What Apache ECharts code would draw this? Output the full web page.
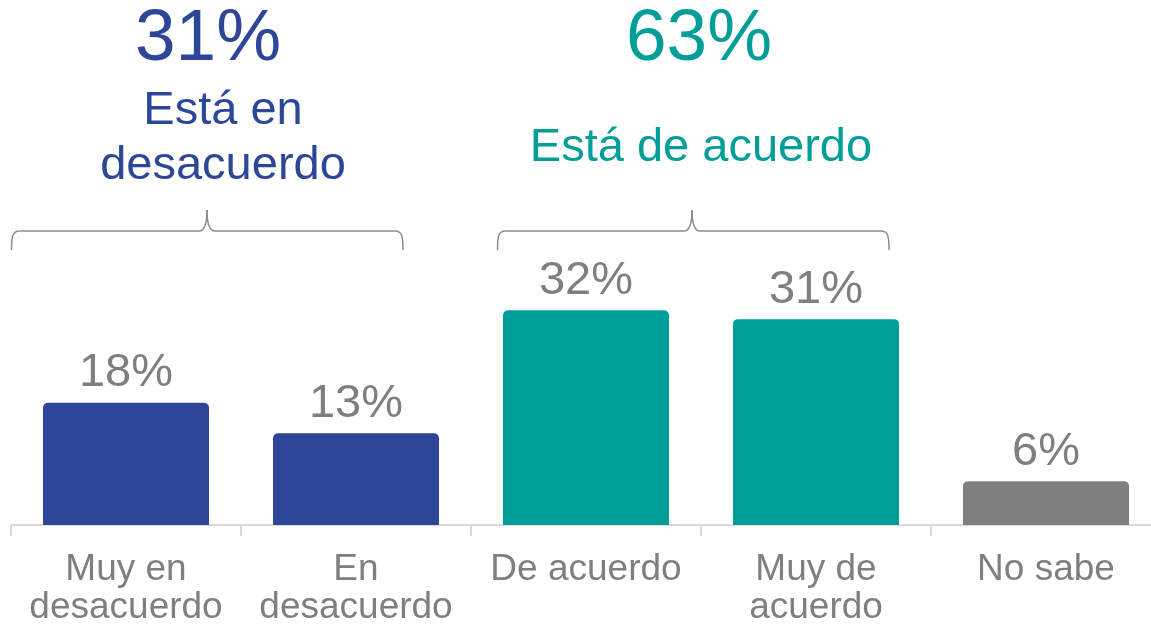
<!DOCTYPE html>
<html>
<head>
<meta charset="utf-8">
<script src="https://cdn.jsdelivr.net/npm/echarts@6/dist/echarts.min.js"></script>
<style>
  html, body { margin: 0; padding: 0; background: #fff; }
  #chart-wrapper { width: 1151px; height: 629px; }
</style>
</head>
<body>
<div id="chart-wrapper"></div>
<script>
// data
var categories = ['Muy en\ndesacuerdo', 'En\ndesacuerdo', 'De acuerdo', 'Muy de\nacuerdo', 'No sabe'];
var values = [18.1, 13.6, 31.8, 30.5, 6.5];
var valueLabels = ['18%', '13%', '32%', '31%', '6%'];
var barColors = ['#2e4698', '#2e4698', '#009e99', '#009e99', '#7f7f7f'];
var groupTotals = ['31%', '63%'];
var groupNames = ['Está en\ndesacuerdo', 'Está de acuerdo'];

var BLUE = '#2e4698', TEAL = '#009e99', GREY = '#7f7f7f';
var FONT = '"Liberation Sans", Arial, sans-serif';

var myChart = echarts.init(document.getElementById('chart-wrapper'));

var barData = [];
for (var i = 0; i < values.length; i++) {
    barData.push({ value: values[i], itemStyle: { color: barColors[i] } });
}

// curly bracket made of lines and bezier pieces
function bracket(xL, xM, xR) {
    var st = { stroke: '#8c8c8c', lineWidth: 1.5, fill: null };
    var yT = 210, yH = 231, yB = 250, r = 8;
    return [
        { type: 'bezierCurve', shape: { x1: xL, y1: yB, x2: xL + r, y2: yH, cpx1: xL, cpy1: yH + 5, cpx2: xL + 1, cpy2: yH }, style: st },
        { type: 'line', shape: { x1: xL + r, y1: yH, x2: xM - r, y2: yH }, style: st },
        { type: 'bezierCurve', shape: { x1: xM - r, y1: yH, x2: xM, y2: yT, cpx1: xM - 3, cpy1: yH, cpx2: xM, cpy2: yH - 5 }, style: st },
        { type: 'bezierCurve', shape: { x1: xM, y1: yT, x2: xM + r, y2: yH, cpx1: xM, cpy1: yH - 5, cpx2: xM + 3, cpy2: yH }, style: st },
        { type: 'line', shape: { x1: xM + r, y1: yH, x2: xR - r, y2: yH }, style: st },
        { type: 'bezierCurve', shape: { x1: xR - r, y1: yH, x2: xR, y2: yB, cpx1: xR - 1, cpy1: yH, cpx2: xR, cpy2: yH + 5 }, style: st }
    ];
}

var graphics = bracket(11.5, 207, 403).concat(bracket(497.5, 692, 889)).concat([
    {
        type: 'text', x: 208, y: 40,
        style: { text: groupTotals[0], fill: BLUE, font: '73px ' + FONT, textAlign: 'center', textVerticalAlign: 'middle' }
    },
    {
        type: 'text', x: 223, y: 84,
        style: { text: groupNames[0], fill: BLUE, font: '47px ' + FONT, lineHeight: 55, textAlign: 'center', textVerticalAlign: 'top' }
    },
    {
        type: 'text', x: 699, y: 40,
        style: { text: groupTotals[1], fill: TEAL, font: '73px ' + FONT, textAlign: 'center', textVerticalAlign: 'middle' }
    },
    {
        type: 'text', x: 701, y: 148,
        style: { text: groupNames[1], fill: TEAL, font: '47px ' + FONT, textAlign: 'center', textVerticalAlign: 'middle' }
    }
]);

var option = {
    animation: false,
    grid: {
        left: 11,
        right: -10,
        top: 255,
        bottom: 104,
        containLabel: false,
        outerBoundsMode: 'none'
    },
    xAxis: {
        type: 'category',
        data: categories,
        axisLine: { lineStyle: { color: '#d9d9d9', width: 2 } },
        axisTick: { show: true, length: 11, lineStyle: { color: '#d9d9d9', width: 2 } },
        axisLabel: {
            color: GREY,
            fontFamily: FONT,
            fontSize: 37,
            lineHeight: 38,
            margin: 26,
            interval: 0
        }
    },
    yAxis: {
        type: 'value',
        min: 0,
        max: 40,
        show: false,
        splitLine: { show: false }
    },
    series: [{
        type: 'bar',
        data: barData,
        barWidth: 166,
        itemStyle: { borderRadius: [5, 5, 0, 0] },
        label: {
            show: true,
            position: 'top',
            distance: 6,
            color: GREY,
            fontFamily: FONT,
            fontSize: 47,
            formatter: function (p) { return valueLabels[p.dataIndex]; }
        }
    }],
    graphic: graphics
};

myChart.setOption(option);
</script>
</body>
</html>
